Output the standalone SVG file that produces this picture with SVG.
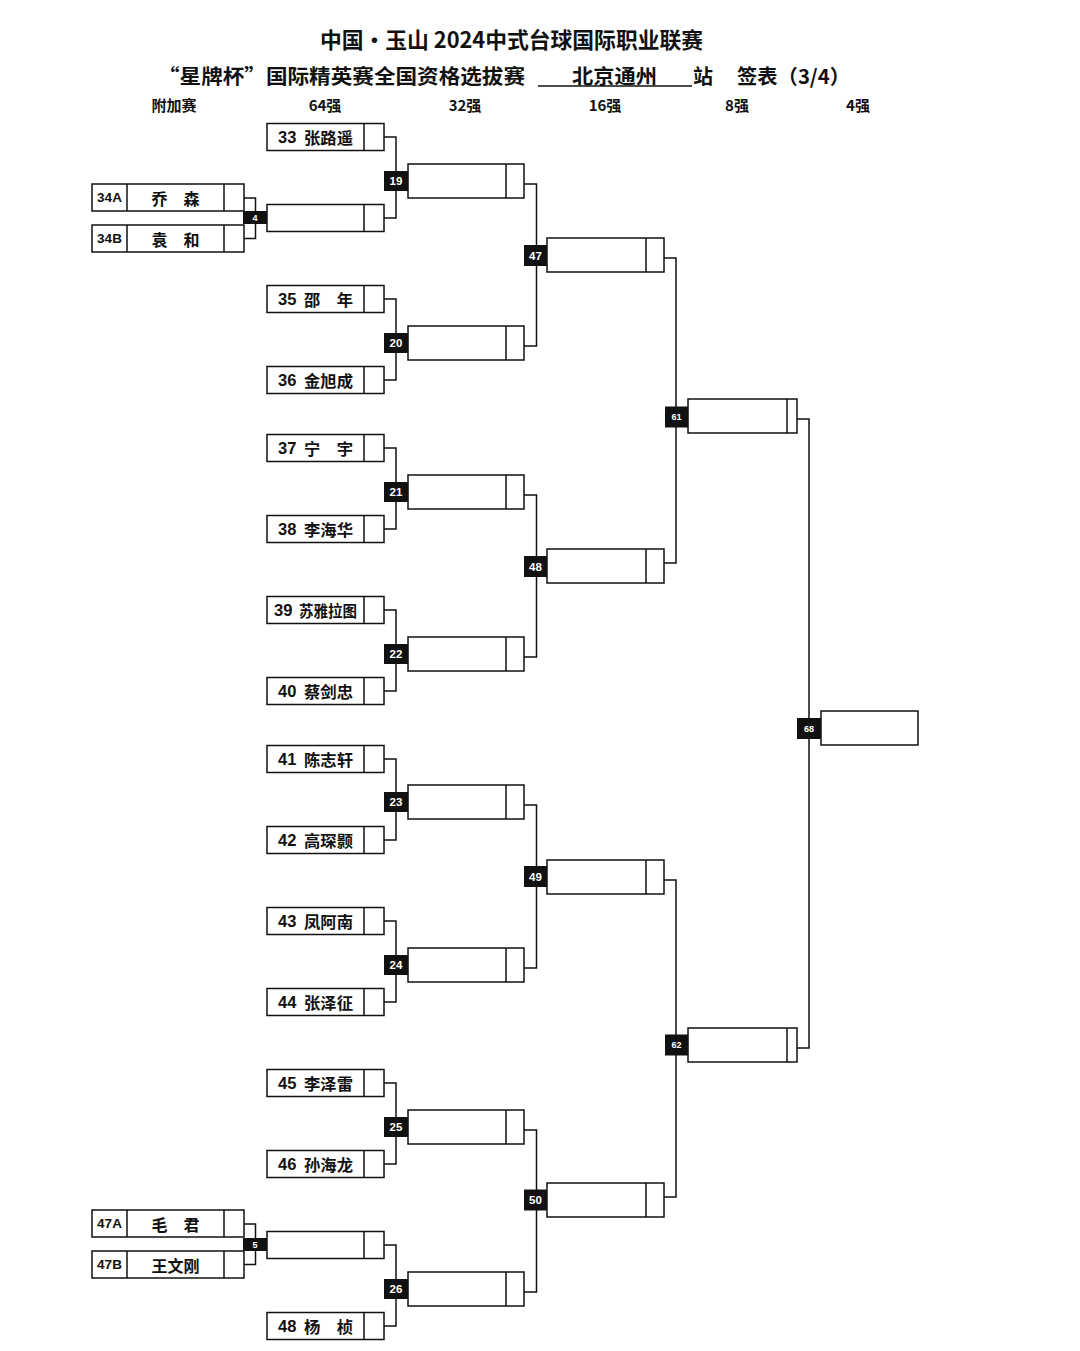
<svg xmlns="http://www.w3.org/2000/svg" width="1080" height="1351" viewBox="0 0 1080 1351">
<style>
.bg{fill:#fff}
.b{fill:#fff;stroke:#111;stroke-width:1.5}
.d{stroke:#111;stroke-width:1.5}
.c{fill:none;stroke:#111;stroke-width:1.5}
.k{fill:#111}
.kt{fill:#fff;font-family:"Liberation Sans","Noto Sans CJK SC",sans-serif;font-weight:bold;font-size:11.5px;text-anchor:middle;dominant-baseline:central}
.ks{font-size:9px}
.n{font-family:"Liberation Sans","Noto Sans CJK SC",sans-serif;font-weight:bold;font-size:16.5px;fill:#111;dominant-baseline:central}
.nm{font-family:"Noto Sans CJK SC",sans-serif;font-weight:bold;font-size:16px;fill:#111;dominant-baseline:central}
.lb{font-family:"Liberation Sans",sans-serif;font-weight:bold;font-size:13.5px;fill:#111;text-anchor:middle;dominant-baseline:central}
.t{font-family:"Noto Sans CJK SC",sans-serif;font-weight:bold;fill:#111;dominant-baseline:central}
.h{font-family:"Noto Sans CJK SC",sans-serif;font-weight:bold;font-size:15px;fill:#111;text-anchor:middle;dominant-baseline:central}
</style>
<rect class="bg" x="0" y="0" width="1080" height="1351"/>
<g id="title">
<text class="t" x="320" y="38" font-size="22" textLength="383" lengthAdjust="spacingAndGlyphs">中国•玉山 2024中式台球国际职业联赛</text>
<text class="t" x="158" y="75" font-size="20" textLength="367" lengthAdjust="spacingAndGlyphs">“星牌杯”国际精英赛全国资格选拔赛</text>
<line class="d" x1="538" y1="86" x2="692" y2="86"/>
<text class="t" x="572" y="75" font-size="20" textLength="85" lengthAdjust="spacingAndGlyphs">北京通州</text>
<text class="t" x="693" y="75" font-size="20">站</text>
<text class="t" x="737" y="75" font-size="20" textLength="113" lengthAdjust="spacingAndGlyphs">签表（3/4）</text>
</g>
<g id="headers">
<text class="h" x="174" y="104">附加赛</text>
<text class="h" x="325" y="104">64强</text>
<text class="h" x="465" y="104">32强</text>
<text class="h" x="605" y="104">16强</text>
<text class="h" x="737" y="104">8强</text>
<text class="h" x="858" y="104">4强</text>
</g>
<g id="connectors">
<path class="c" d="M244,198 H255.5 V238.5 H244"/>
<path class="c" d="M244,1224 H255.5 V1264.5 H244"/>
<path class="c" d="M384,137 H396 V218 H384"/>
<path class="c" d="M384,299 H396 V380 H384"/>
<path class="c" d="M384,448 H396 V529 H384"/>
<path class="c" d="M384,610 H396 V691 H384"/>
<path class="c" d="M384,759 H396 V840 H384"/>
<path class="c" d="M384,921 H396 V1002 H384"/>
<path class="c" d="M384,1083 H396 V1164 H384"/>
<path class="c" d="M384,1245 H396 V1326 H384"/>
<path class="c" d="M524,184 H536.5 V346 H524"/>
<path class="c" d="M524,495 H536.5 V657 H524"/>
<path class="c" d="M524,805 H536.5 V968 H524"/>
<path class="c" d="M524,1130 H536.5 V1292 H524"/>
<path class="c" d="M664,258 H676 V563 H664"/>
<path class="c" d="M664,880 H676 V1197 H664"/>
<path class="c" d="M797,419 H809 V1048 H797"/>
</g>
<g id="p34A"><rect class="b" x="92" y="184" width="152" height="27"/><line class="d" x1="127" y1="184" x2="127" y2="211"/><line class="d" x1="224" y1="184" x2="224" y2="211"/><text class="lb" x="109.5" y="197.5">34A</text><text class="nm" x="175.5" y="197.5" text-anchor="middle">乔　森</text></g>
<g id="p34B"><rect class="b" x="92" y="225" width="152" height="27"/><line class="d" x1="127" y1="225" x2="127" y2="252"/><line class="d" x1="224" y1="225" x2="224" y2="252"/><text class="lb" x="109.5" y="238.5">34B</text><text class="nm" x="175.5" y="238.5" text-anchor="middle">袁　和</text></g>
<g id="p47A"><rect class="b" x="92" y="1210" width="152" height="27"/><line class="d" x1="127" y1="1210" x2="127" y2="1237"/><line class="d" x1="224" y1="1210" x2="224" y2="1237"/><text class="lb" x="109.5" y="1223.5">47A</text><text class="nm" x="175.5" y="1223.5" text-anchor="middle">毛　君</text></g>
<g id="p47B"><rect class="b" x="92" y="1251" width="152" height="27"/><line class="d" x1="127" y1="1251" x2="127" y2="1278"/><line class="d" x1="224" y1="1251" x2="224" y2="1278"/><text class="lb" x="109.5" y="1264.5">47B</text><text class="nm" x="175.5" y="1264.5" text-anchor="middle">王文刚</text></g>
<g id="n33"><rect class="b" x="267" y="123.5" width="117" height="27"/><line class="d" x1="364" y1="123.5" x2="364" y2="150.5"/><text class="n" x="278" y="137">33</text><text class="nm" x="304" y="137" textLength="49" lengthAdjust="spacingAndGlyphs">张路遥</text></g>
<g id="m4"><rect class="b" x="267" y="204.5" width="117" height="27"/><line class="d" x1="364" y1="204.5" x2="364" y2="231.5"/><rect class="k" x="243" y="211" width="24" height="13"/><text class="kt ks" x="255" y="217.5">4</text></g>
<g id="n35"><rect class="b" x="267" y="285.5" width="117" height="27"/><line class="d" x1="364" y1="285.5" x2="364" y2="312.5"/><text class="n" x="278" y="299">35</text><text class="nm" x="304" y="299" textLength="49" lengthAdjust="spacingAndGlyphs">邵　年</text></g>
<g id="n36"><rect class="b" x="267" y="366.5" width="117" height="27"/><line class="d" x1="364" y1="366.5" x2="364" y2="393.5"/><text class="n" x="278" y="380">36</text><text class="nm" x="304" y="380" textLength="49" lengthAdjust="spacingAndGlyphs">金旭成</text></g>
<g id="n37"><rect class="b" x="267" y="434.5" width="117" height="27"/><line class="d" x1="364" y1="434.5" x2="364" y2="461.5"/><text class="n" x="278" y="448">37</text><text class="nm" x="304" y="448" textLength="49" lengthAdjust="spacingAndGlyphs">宁　宇</text></g>
<g id="n38"><rect class="b" x="267" y="515.5" width="117" height="27"/><line class="d" x1="364" y1="515.5" x2="364" y2="542.5"/><text class="n" x="278" y="529">38</text><text class="nm" x="304" y="529" textLength="49" lengthAdjust="spacingAndGlyphs">李海华</text></g>
<g id="n39"><rect class="b" x="267" y="596.5" width="117" height="27"/><line class="d" x1="364" y1="596.5" x2="364" y2="623.5"/><text class="n" x="274" y="610">39</text><text class="nm" x="299" y="610" textLength="58" lengthAdjust="spacingAndGlyphs">苏雅拉图</text></g>
<g id="n40"><rect class="b" x="267" y="677.5" width="117" height="27"/><line class="d" x1="364" y1="677.5" x2="364" y2="704.5"/><text class="n" x="278" y="691">40</text><text class="nm" x="304" y="691" textLength="49" lengthAdjust="spacingAndGlyphs">蔡剑忠</text></g>
<g id="n41"><rect class="b" x="267" y="745.5" width="117" height="27"/><line class="d" x1="364" y1="745.5" x2="364" y2="772.5"/><text class="n" x="278" y="759">41</text><text class="nm" x="304" y="759" textLength="49" lengthAdjust="spacingAndGlyphs">陈志轩</text></g>
<g id="n42"><rect class="b" x="267" y="826.5" width="117" height="27"/><line class="d" x1="364" y1="826.5" x2="364" y2="853.5"/><text class="n" x="278" y="840">42</text><text class="nm" x="304" y="840" textLength="49" lengthAdjust="spacingAndGlyphs">高琛颢</text></g>
<g id="n43"><rect class="b" x="267" y="907.5" width="117" height="27"/><line class="d" x1="364" y1="907.5" x2="364" y2="934.5"/><text class="n" x="278" y="921">43</text><text class="nm" x="304" y="921" textLength="49" lengthAdjust="spacingAndGlyphs">凤阿南</text></g>
<g id="n44"><rect class="b" x="267" y="988.5" width="117" height="27"/><line class="d" x1="364" y1="988.5" x2="364" y2="1015.5"/><text class="n" x="278" y="1002">44</text><text class="nm" x="304" y="1002" textLength="49" lengthAdjust="spacingAndGlyphs">张泽征</text></g>
<g id="n45"><rect class="b" x="267" y="1069.5" width="117" height="27"/><line class="d" x1="364" y1="1069.5" x2="364" y2="1096.5"/><text class="n" x="278" y="1083">45</text><text class="nm" x="304" y="1083" textLength="49" lengthAdjust="spacingAndGlyphs">李泽雷</text></g>
<g id="n46"><rect class="b" x="267" y="1150.5" width="117" height="27"/><line class="d" x1="364" y1="1150.5" x2="364" y2="1177.5"/><text class="n" x="278" y="1164">46</text><text class="nm" x="304" y="1164" textLength="49" lengthAdjust="spacingAndGlyphs">孙海龙</text></g>
<g id="m5"><rect class="b" x="267" y="1231.5" width="117" height="27"/><line class="d" x1="364" y1="1231.5" x2="364" y2="1258.5"/><rect class="k" x="243" y="1238" width="24" height="13"/><text class="kt ks" x="255" y="1244.5">5</text></g>
<g id="n48"><rect class="b" x="267" y="1312.5" width="117" height="27"/><line class="d" x1="364" y1="1312.5" x2="364" y2="1339.5"/><text class="n" x="278" y="1326">48</text><text class="nm" x="304" y="1326" textLength="49" lengthAdjust="spacingAndGlyphs">杨　桢</text></g>
<g id="m19"><rect class="b" x="408" y="164" width="116" height="34"/><line class="d" x1="506" y1="164" x2="506" y2="198"/><rect class="k" x="384" y="171" width="24" height="20"/><text class="kt" x="396" y="181">19</text></g>
<g id="m20"><rect class="b" x="408" y="326" width="116" height="34"/><line class="d" x1="506" y1="326" x2="506" y2="360"/><rect class="k" x="384" y="333" width="24" height="20"/><text class="kt" x="396" y="343">20</text></g>
<g id="m21"><rect class="b" x="408" y="475" width="116" height="34"/><line class="d" x1="506" y1="475" x2="506" y2="509"/><rect class="k" x="384" y="482" width="24" height="20"/><text class="kt" x="396" y="492">21</text></g>
<g id="m22"><rect class="b" x="408" y="637" width="116" height="34"/><line class="d" x1="506" y1="637" x2="506" y2="671"/><rect class="k" x="384" y="644" width="24" height="20"/><text class="kt" x="396" y="654">22</text></g>
<g id="m23"><rect class="b" x="408" y="785" width="116" height="34"/><line class="d" x1="506" y1="785" x2="506" y2="819"/><rect class="k" x="384" y="792" width="24" height="20"/><text class="kt" x="396" y="802">23</text></g>
<g id="m24"><rect class="b" x="408" y="948" width="116" height="34"/><line class="d" x1="506" y1="948" x2="506" y2="982"/><rect class="k" x="384" y="955" width="24" height="20"/><text class="kt" x="396" y="965">24</text></g>
<g id="m25"><rect class="b" x="408" y="1110" width="116" height="34"/><line class="d" x1="506" y1="1110" x2="506" y2="1144"/><rect class="k" x="384" y="1117" width="24" height="20"/><text class="kt" x="396" y="1127">25</text></g>
<g id="m26"><rect class="b" x="408" y="1272" width="116" height="34"/><line class="d" x1="506" y1="1272" x2="506" y2="1306"/><rect class="k" x="384" y="1279" width="24" height="20"/><text class="kt" x="396" y="1289">26</text></g>
<g id="m47"><rect class="b" x="547" y="238" width="117" height="34"/><line class="d" x1="646" y1="238" x2="646" y2="272"/><rect class="k" x="524" y="245" width="23" height="21"/><text class="kt" x="535.5" y="255.5">47</text></g>
<g id="m48"><rect class="b" x="547" y="549" width="117" height="34"/><line class="d" x1="646" y1="549" x2="646" y2="583"/><rect class="k" x="524" y="556" width="23" height="21"/><text class="kt" x="535.5" y="566.5">48</text></g>
<g id="m49"><rect class="b" x="547" y="860" width="117" height="34"/><line class="d" x1="646" y1="860" x2="646" y2="894"/><rect class="k" x="524" y="866" width="23" height="21"/><text class="kt" x="535.5" y="876.5">49</text></g>
<g id="m50"><rect class="b" x="547" y="1183" width="117" height="34"/><line class="d" x1="646" y1="1183" x2="646" y2="1217"/><rect class="k" x="524" y="1189.5" width="23" height="21"/><text class="kt" x="535.5" y="1200">50</text></g>
<g id="m61"><rect class="b" x="688" y="399" width="109" height="34"/><line class="d" x1="787" y1="399" x2="787" y2="433"/><rect class="k" x="665" y="406.5" width="23" height="21"/><text class="kt ks" x="676.5" y="417">61</text></g>
<g id="m62"><rect class="b" x="688" y="1028" width="109" height="34"/><line class="d" x1="787" y1="1028" x2="787" y2="1062"/><rect class="k" x="665" y="1034.5" width="23" height="21"/><text class="kt ks" x="676.5" y="1045">62</text></g>
<g id="m68"><rect class="b" x="821" y="711" width="97" height="34"/><rect class="k" x="797" y="718" width="24" height="21"/><text class="kt ks" x="809" y="728.5">68</text></g>
</svg>
